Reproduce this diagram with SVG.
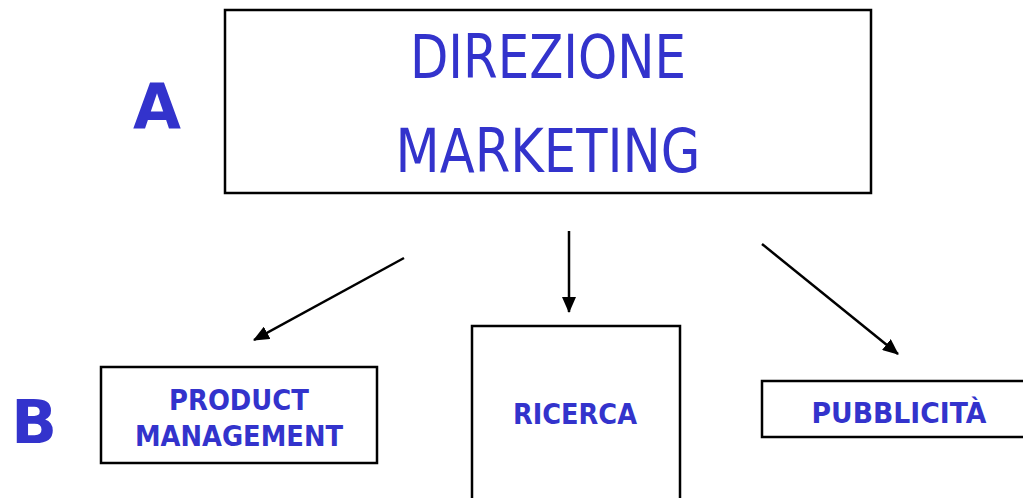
<svg xmlns="http://www.w3.org/2000/svg" width="1023" height="498" viewBox="0 0 1023 498">
<style>
.box{fill:#fff;stroke:#000;stroke-width:2.5}
.t{fill:#3333CC;font-family:"DejaVu Sans",sans-serif;text-anchor:middle}
.b{font-weight:bold}
.c{stroke:#000;stroke-width:2.5;fill:none;marker-end:url(#ah)}
</style>
<defs>
<marker id="ah" markerWidth="16" markerHeight="14" refX="15" refY="7" orient="auto" markerUnits="userSpaceOnUse">
<path d="M0,0 L16,7 L0,14 z" fill="#000"/>
</marker>
</defs>
<rect width="1023" height="498" fill="#fff"/>
<text class="t b" x="157" y="128" font-size="62">A</text>
<text class="t b" x="34" y="443" font-size="60">B</text>
<g id="direzione">
<rect class="box" x="225" y="10" width="646" height="183"/>
<text class="t" x="548" y="78" font-size="61" textLength="276" lengthAdjust="spacingAndGlyphs">DIREZIONE</text>
<text class="t" x="548" y="172" font-size="61" textLength="305" lengthAdjust="spacingAndGlyphs">MARKETING</text>
</g>
<g id="product">
<rect class="box" x="101" y="367" width="276" height="96"/>
<text class="t b" x="239" y="410" font-size="29" textLength="140" lengthAdjust="spacingAndGlyphs">PRODUCT</text>
<text class="t b" x="239" y="446" font-size="29" textLength="208" lengthAdjust="spacingAndGlyphs">MANAGEMENT</text>
</g>
<g id="ricerca">
<rect class="box" x="472" y="326" width="208" height="180"/>
<text class="t b" x="575" y="424" font-size="29" textLength="124" lengthAdjust="spacingAndGlyphs">RICERCA</text>
</g>
<g id="pubblicita">
<rect class="box" x="762" y="381" width="270" height="56"/>
<text class="t b" x="899" y="423" font-size="29" textLength="175" lengthAdjust="spacingAndGlyphs">PUBBLICITÀ</text>
</g>
<g id="connectors">
<line class="c" x1="404" y1="258" x2="254" y2="340"/>
<line class="c" x1="569" y1="231" x2="569" y2="312"/>
<line class="c" x1="762" y1="244" x2="898" y2="354"/>
</g>
</svg>
